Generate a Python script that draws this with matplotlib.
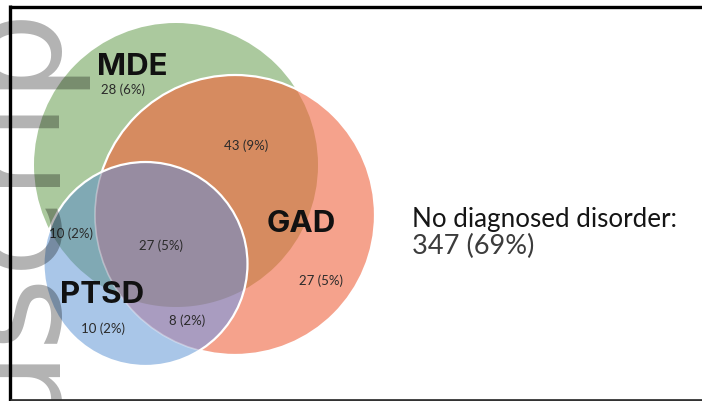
import numpy as np
import matplotlib
matplotlib.use("Agg")
import matplotlib.pyplot as plt
from matplotlib.patches import Circle, Polygon

# ---- data ----
set_names = ["MDE", "GAD", "PTSD"]
# regions: MDE only, MDE&GAD, GAD only, MDE&PTSD, all three, GAD&PTSD, PTSD only
region_names = ["MDE", "MDE+GAD", "GAD", "MDE+PTSD", "ALL", "GAD+PTSD", "PTSD"]
region_counts = [28, 43, 27, 10, 27, 8, 10]
region_pcts = [6, 9, 5, 2, 5, 2, 2]
none_count = 347
none_pct = 69

# ---- layout (pixel coordinates) ----
W, H = 702, 401
fig = plt.figure(figsize=(W / 100, H / 100), dpi=100)
ax = fig.add_axes([0, 0, 1, 1])
ax.set_xlim(0, W)
ax.set_ylim(H, 0)
ax.axis("off")

circ = {"MDE": ((176, 165), 142), "GAD": ((235, 215), 140), "PTSD": ((145.5, 264), 102)}
col = {"MDE": "#abc99e", "MDE+GAD": "#d68b60", "GAD": "#f5a28c", "PTSD": "#a9c6e8",
       "MDE+PTSD": "#80a9b4", "ALL": "#978ca1", "GAD+PTSD": "#a99cc0"}


def mk(name, fc, z, **kw):
    c, r = circ[name]
    p = Circle(c, r, facecolor=fc, edgecolor="none", zorder=z, **kw)
    ax.add_patch(p)
    return p


def clipper(name):
    c, r = circ[name]
    return Circle(c, r, transform=ax.transData)


def lens(a, b, n=1440):
    (c1, r1), (c2, r2) = circ[a], circ[b]
    t = np.linspace(0, 2 * np.pi, n, endpoint=False)
    p1 = np.c_[c1[0] + r1 * np.cos(t), c1[1] + r1 * np.sin(t)]
    p2 = np.c_[c2[0] + r2 * np.cos(t), c2[1] + r2 * np.sin(t)]
    p1 = p1[np.hypot(p1[:, 0] - c2[0], p1[:, 1] - c2[1]) <= r2]
    p2 = p2[np.hypot(p2[:, 0] - c1[0], p2[:, 1] - c1[1]) <= r1]
    pts = np.vstack([p1, p2])
    m = pts.mean(axis=0)
    order = np.argsort(np.arctan2(pts[:, 1] - m[1], pts[:, 0] - m[0]))
    return Polygon(pts[order], closed=True, transform=ax.transData)


mk("MDE", col["MDE"], 1)
mk("GAD", col["GAD"], 2)
p = mk("GAD", col["MDE+GAD"], 3)
p.set_clip_path(clipper("MDE"))
ax.add_patch(Circle(*circ["GAD"], facecolor="none", edgecolor="white", lw=1.6, zorder=4))
mk("PTSD", col["PTSD"], 5)
p = mk("PTSD", col["MDE+PTSD"], 6)
p.set_clip_path(clipper("MDE"))
p = mk("PTSD", col["GAD+PTSD"], 6)
p.set_clip_path(clipper("GAD"))
p = mk("PTSD", col["ALL"], 7)
p.set_clip_path(lens("MDE", "GAD"))
g = Circle(*circ["GAD"], facecolor="none", edgecolor="white", lw=1.2, alpha=0.35, zorder=8)
ax.add_patch(g)
g.set_clip_path(clipper("PTSD"))
ax.add_patch(Circle(*circ["PTSD"], facecolor="none", edgecolor="white", lw=1.6, zorder=9))

# ---- labels ----
name_pos = {"MDE": (132, 75), "GAD": (301, 232), "PTSD": (102, 303)}
for n in set_names:
    x, y = name_pos[n]
    ax.text(x, y, n, ha="center", va="baseline", fontsize=22.5, fontweight="bold",
            family="Inter", color="#111111", zorder=20)

reg_pos = {"MDE": (123, 94), "MDE+GAD": (246, 150), "GAD": (321, 285),
           "MDE+PTSD": (71, 238), "ALL": (161, 250), "GAD+PTSD": (187, 325),
           "PTSD": (103, 333)}
for n, c, pc in zip(region_names, region_counts, region_pcts):
    x, y = reg_pos[n]
    ax.text(x, y, f"{c} ({pc}%)", ha="center", va="baseline", fontsize=9.5,
            family="Lato", color="#2a2a2a", zorder=20)

ax.text(412, 227, "No diagnosed disorder:", ha="left", va="baseline", fontsize=18.7,
        family="Lato", color="#151515", zorder=20)
ax.text(412, 254, f"{none_count} ({none_pct}%)", ha="left", va="baseline", fontsize=19.5,
        family="Lato", color="#3c3c3c", zorder=20)

# ---- watermark ----
ax.text(47, -58, "Manuscript", rotation=90, rotation_mode="anchor", ha="right",
        va="baseline", fontsize=102, family="DejaVu Sans", color="black", alpha=0.3,
        zorder=30)

# ---- frame ----
ax.plot([10, W], [6.5, 6.5], color="black", lw=2.4, zorder=40, solid_capstyle="butt")
ax.plot([10, 10], [5.3, H], color="black", lw=2.4, zorder=40, solid_capstyle="butt")
ax.plot([10, W], [400, 400], color="#333333", lw=2.0, zorder=40, solid_capstyle="butt")

fig.savefig("out.png", dpi=100)
